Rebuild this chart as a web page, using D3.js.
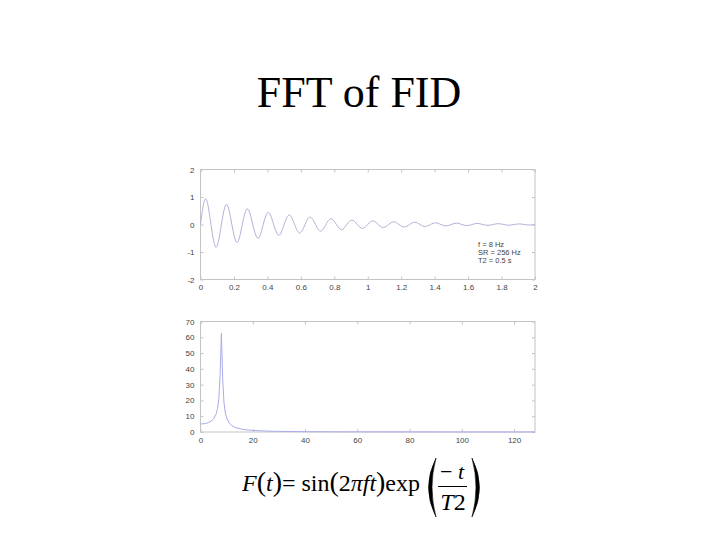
<!DOCTYPE html>
<html><head><meta charset="utf-8">
<script src="https://cdn.jsdelivr.net/npm/d3@7/dist/d3.min.js"></script>
<style>body{margin:0;background:#fff}svg{display:block}</style>
</head><body>
<script>
// ---- data ----
const title = "FFT of FID";
const annotation = ["f = 8 Hz", "SR = 256 Hz", "T2 = 0.5 s"];
// time-domain FID: zero crossings and extrema (seconds, amplitude)
const fidTime = [0,0.031,0.0625,0.094,0.125,0.156,0.1875,0.219,0.25,0.281,0.3125,0.344,0.375,0.406,0.4375,0.469,
 0.5,0.531,0.5625,0.594,0.625,0.656,0.6875,0.719,0.75,0.781,0.8125,0.844,0.875,0.906,0.9375,0.969,
 1,1.031,1.0625,1.094,1.125,1.156,1.1875,1.219,1.25,1.281,1.3125,1.344,1.375,1.406,1.4375,1.469,
 1.5,1.531,1.5625,1.594,1.625,1.656,1.6875,1.719,1.75,1.781,1.8125,1.844,1.875,1.906,1.9375,1.969,2];
const fidValue = [0,0.94,0,-0.83,0,0.73,0,-0.65,0,0.57,0,-0.50,0,0.44,0,-0.39,
 0,0.35,0,-0.31,0,0.27,0,-0.24,0,0.21,0,-0.19,0,0.16,0,-0.14,
 0,0.13,0,-0.11,0,0.10,0,-0.09,0,0.08,0,-0.07,0,0.06,0,-0.05,
 0,0.05,0,-0.04,0,0.04,0,-0.03,0,0.03,0,-0.025,0,0.02,0,-0.02,0];
// magnitude spectrum (Hz, magnitude)
const freq = [0,1,2,3,4,5,6,6.5,7,7.5,8,8.5,9,9.5,10,11,12,13,14,16,18,20,25,30,35,40,50,60,80,100,128];
const magnitude = [5.1,5.2,5.4,6.0,6.8,8.3,11.5,14.7,20.7,35.5,62.5,33.3,18.3,12.1,8.9,5.7,4.1,3.1,2.5,1.7,1.3,1.0,0.6,0.4,0.3,0.2,0.13,0.09,0.05,0.03,0.02];
const topXTicks = [0,0.2,0.4,0.6,0.8,1,1.2,1.4,1.6,1.8,2];
const topYTicks = [-2,-1,0,1,2];
const botXTicks = [0,20,40,60,80,100,120];
const botYTicks = [0,10,20,30,40,50,60,70];

const W = 720, H = 540;
const svg = d3.select("body").append("svg").attr("width", W).attr("height", H);

svg.append("text").attr("x", 359).attr("y", 107).attr("text-anchor", "middle")
  .attr("font-family", "'Liberation Serif','Times New Roman',serif").attr("font-size", 44)
  .attr("fill", "#000").text(title);

const axisColor = "#c4c4c4", labelColor = "#444";

function panel(x0, x1, y0, y1, xDom, yDom, xTicks, yTicks) {
  const x = d3.scaleLinear().domain(xDom).range([x0, x1]);
  const y = d3.scaleLinear().domain(yDom).range([y1, y0]);
  const g = svg.append("g");
  g.append("rect").attr("x", x0).attr("y", y0).attr("width", x1 - x0).attr("height", y1 - y0)
    .attr("fill", "#fff").attr("stroke", axisColor).attr("stroke-width", 1);
  const fmt = d => String(d);
  const axB = d3.axisBottom(x).tickValues(xTicks).tickSize(-3).tickPadding(5).tickFormat(fmt);
  const axT = d3.axisTop(x).tickValues(xTicks).tickSize(-3).tickFormat("");
  const axL = d3.axisLeft(y).tickValues(yTicks).tickSize(-3).tickPadding(6).tickFormat(fmt);
  const axR = d3.axisRight(y).tickValues(yTicks).tickSize(-3).tickFormat("");
  const style = s => {
    s.select(".domain").remove();
    s.selectAll("line").attr("stroke", axisColor);
    s.selectAll("text").attr("fill", labelColor).attr("font-size", 8)
      .attr("font-family", "'Liberation Sans',Arial,sans-serif");
  };
  g.append("g").attr("transform", `translate(0,${y1})`).call(axB).call(style);
  g.append("g").attr("transform", `translate(0,${y0})`).call(axT).call(style);
  g.append("g").attr("transform", `translate(${x0},0)`).call(axL).call(style);
  g.append("g").attr("transform", `translate(${x1},0)`).call(axR).call(style);
  return {x, y, g};
}

const topPanel = panel(200.5, 535, 169.5, 279.5, [0, 2], [-2, 2], topXTicks, topYTicks);
topPanel.g.append("path").datum(fidTime.map((t, i) => [t, fidValue[i]]))
  .attr("fill", "none").attr("stroke", "#b2b2d6").attr("stroke-width", 1)
  .attr("d", d3.line().x(d => topPanel.x(d[0])).y(d => topPanel.y(d[1])).curve(d3.curveNatural));
annotation.forEach((s, i) => {
  topPanel.g.append("text").attr("x", 478).attr("y", 246.5 + i * 8).attr("font-size", 7.5)
    .attr("font-family", "'Liberation Sans',Arial,sans-serif").attr("fill", labelColor).text(s);
});

const botPanel = panel(200.5, 535, 321.5, 432, [0, 128], [0, 70], botXTicks, botYTicks);
botPanel.g.append("path").datum(freq.map((v, i) => [v, magnitude[i]]))
  .attr("fill", "none").attr("stroke", "#ababea").attr("stroke-width", 1)
  .attr("d", d3.line().x(d => botPanel.x(d[0])).y(d => botPanel.y(d[1])));

// formula
const serif = "'Liberation Serif','Times New Roman',serif";
const f = svg.append("text").attr("x", 242).attr("y", 491).attr("font-family", serif).attr("font-size", 24)
  .attr("textLength", 178).attr("lengthAdjust", "spacing");
const parts = [["F", true, 24], ["(", false, 28], ["t", true, 24], [")", false, 28], ["= sin", false, 24], ["(", false, 28], ["2", false, 24],
  ["πft", true, 24], [")", false, 28], ["exp", false, 24]];
parts.forEach(([s, it, fs]) => f.append("tspan").attr("font-style", it ? "italic" : "normal")
  .attr("font-size", fs).text(s));
// large parentheses drawn as crescents
const parenL = "M436,458 Q421,487.5 436,517 Q428,487.5 436,458 Z";
const parenR = "M472,458 Q487,487.5 472,517 Q480,487.5 472,458 Z";
svg.append("path").attr("d", parenL).attr("fill", "#000").attr("stroke", "#000").attr("stroke-width", 0.6);
svg.append("path").attr("d", parenR).attr("fill", "#000").attr("stroke", "#000").attr("stroke-width", 0.6);
svg.append("text").attr("x", 452).attr("y", 479).attr("text-anchor", "middle").attr("font-family", serif)
  .attr("font-size", 22).html('<tspan>− </tspan><tspan font-style="italic">t</tspan>');
svg.append("line").attr("x1", 438).attr("x2", 467).attr("y1", 486.5).attr("y2", 486.5)
  .attr("stroke", "#000").attr("stroke-width", 1);
svg.append("text").attr("x", 453).attr("y", 510).attr("text-anchor", "middle").attr("font-family", serif)
  .attr("font-size", 24).html('<tspan font-style="italic">T</tspan><tspan>2</tspan>');
</script>
</body></html>
